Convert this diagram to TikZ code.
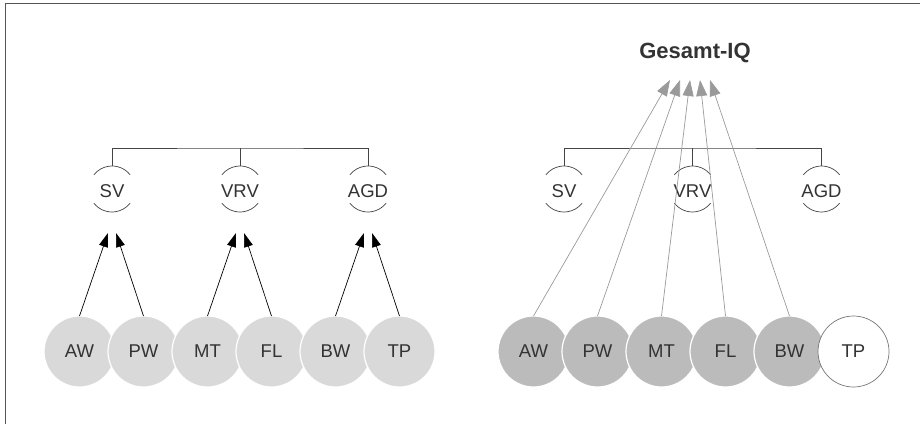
\documentclass[tikz,border=0pt]{standalone}
\usepackage{fontspec}
\setmainfont{Liberation Sans}
\usetikzlibrary{arrows.meta}

\definecolor{ink}{HTML}{333333}
\definecolor{linegray}{HTML}{444444}
\definecolor{palefill}{HTML}{D9D9D9}
\definecolor{midfill}{HTML}{BBBBBB}
\definecolor{rimgray}{HTML}{777777}
\definecolor{arrowgray}{HTML}{9A9A9A}
\definecolor{framegray}{HTML}{555555}

\begin{document}
\begin{tikzpicture}[x=1pt,y=1pt,
  facet/.style={circle, minimum size=71pt, inner sep=0pt, outer sep=0pt,
    draw=white, line width=1.2pt, text=ink,
    font=\fontsize{18.5}{20}\selectfont},
  palefacet/.style={facet, fill=palefill},
  midfacet/.style={facet, fill=midfill},
  openfacet/.style={facet, fill=white, draw=rimgray, line width=0.7pt},
  factor/.style={inner sep=0pt, outer sep=0pt, text=ink,
    font=\fontsize{18.5}{20}\selectfont},
  arcline/.style={draw=linegray, line width=0.7pt},
  barline/.style={draw=linegray, line width=0.7pt},
  darkarrow/.style={draw=black, line width=0.7pt,
    -{Triangle[length=14pt,width=9pt]}},
  grayarrow/.style={draw=arrowgray, line width=0.7pt,
    -{Triangle[length=16pt,width=11pt]}},
  title/.style={text=ink, font=\fontsize{22}{24}\selectfont\bfseries}
]
\useasboundingbox (0,0) rectangle (920,424);

% frame edges
\draw[framegray, line width=1pt] (5,0) -- (5,420) -- (920,420);

% factor marks: label with an arc above and below
\newcommand{\factorarcs}[1]{%
  \draw[arcline] ([shift={(38:23pt)}]#1.center) ++(0,2) arc[start angle=38, end angle=142, radius=23pt];
  \draw[arcline] ([shift={(218:23pt)}]#1.center) ++(0,2) arc[start angle=218, end angle=322, radius=23pt];
}

% ---------- left: three factors ----------
\node[factor] (lsv)  at (112,233) {SV};
\node[factor] (lvrv) at (240,233) {VRV};
\node[factor] (lagd) at (368,233) {AGD};
\factorarcs{lsv}
\factorarcs{lvrv}
\factorarcs{lagd}
\coordinate (lbar) at (240,276);
\draw[barline] ([yshift=25pt]lsv.center) |- (lbar) -| ([yshift=25pt]lagd.center);
\draw[barline] ([yshift=25pt]lvrv.center) -- (lbar);

\node[palefacet] (law) at (79.5,72.5)  {AW};
\node[palefacet] (lpw) at (143.5,72.5) {PW};
\node[palefacet] (lmt) at (207.5,72.5) {MT};
\node[palefacet] (lfl) at (271.5,72.5) {FL};
\node[palefacet] (lbw) at (335.5,72.5) {BW};
\node[palefacet] (ltp) at (399.5,72.5) {TP};

\coordinate (lsv-a)  at (108,191);
\coordinate (lsv-b)  at (116,191);
\coordinate (lvrv-a) at (236,191);
\coordinate (lvrv-b) at (244,191);
\coordinate (lagd-a) at (364,191);
\coordinate (lagd-b) at (372,191);
\draw[darkarrow] (law.north) -- (lsv-a);
\draw[darkarrow] (lpw.north) -- (lsv-b);
\draw[darkarrow] (lmt.north) -- (lvrv-a);
\draw[darkarrow] (lfl.north) -- (lvrv-b);
\draw[darkarrow] (lbw.north) -- (lagd-a);
\draw[darkarrow] (ltp.north) -- (lagd-b);

% ---------- right: general factor ----------
\node[title] (iq) at (695,371) {Gesamt-IQ};

\node[factor] (rsv)  at (564,233)   {SV};
\node[factor] (rvrv) at (692.5,233) {VRV};
\node[factor] (ragd) at (821.5,233) {AGD};
\factorarcs{rsv}
\factorarcs{rvrv}
\factorarcs{ragd}
\coordinate (rbar) at (692.5,276);
\draw[barline] ([yshift=25pt]rsv.center) |- (rbar) -| ([yshift=25pt]ragd.center);
\draw[barline] ([yshift=25pt]rvrv.center) -- (rbar);

\node[midfacet]  (raw) at (533.5,72.5) {AW};
\node[midfacet]  (rpw) at (597.5,72.5) {PW};
\node[midfacet]  (rmt) at (661.5,72.5) {MT};
\node[midfacet]  (rfl) at (725.5,72.5) {FL};
\node[midfacet]  (rbw) at (789.5,72.5) {BW};
\node[openfacet] (rtp) at (853.5,72.5) {TP};

\coordinate (iq-a) at (670,344);
\coordinate (iq-b) at (680,344);
\coordinate (iq-c) at (690,344);
\coordinate (iq-d) at (700,344);
\coordinate (iq-e) at (710,344);
\draw[grayarrow] (raw.north) -- (iq-a);
\draw[grayarrow] (rpw.north) -- (iq-b);
\draw[grayarrow] (rmt.north) -- (iq-c);
\draw[grayarrow] (rfl.north) -- (iq-d);
\draw[grayarrow] (rbw.north) -- (iq-e);
\end{tikzpicture}
\end{document}
